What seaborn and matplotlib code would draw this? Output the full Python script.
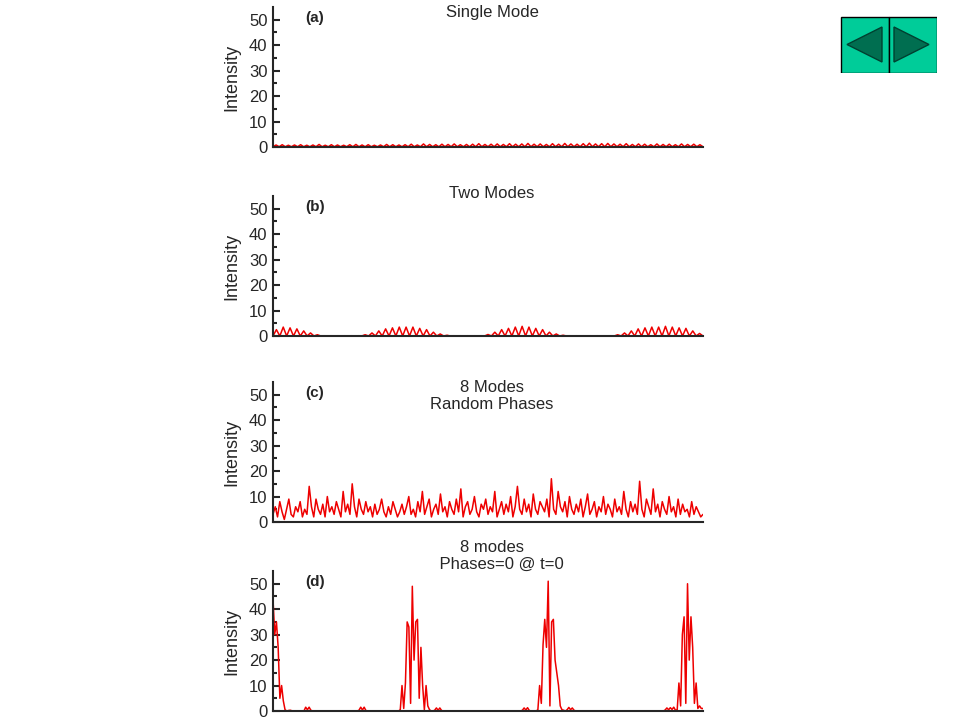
import numpy as np
import matplotlib
matplotlib.use("Agg")
import matplotlib.pyplot as plt
import seaborn as sns
from matplotlib.patches import Rectangle, Polygon

sns.set_style("white")
plt.rcParams['font.family'] = ['Liberation Sans', 'DejaVu Sans']

# --- data ---
# (a) single mode: peak heights of the ripple, troughs near zero
a_peaks = [0.8, 0.9, 0.7, 0.8, 0.9, 0.7, 0.8, 1.0, 0.7, 0.9, 0.8, 0.7, 0.9, 1.0, 0.8, 0.9, 0.7, 0.8,
           1.0, 0.9, 0.8, 0.9, 1.1, 0.8, 1.2, 1.0, 0.9, 1.1, 1.0, 1.2, 0.9, 1.0, 1.1, 1.3, 1.0, 1.1,
           1.2, 1.0, 1.3, 1.1, 1.2, 1.4, 1.1, 1.2, 1.0, 1.3, 1.1, 1.4, 1.2, 1.1, 1.3, 1.5, 1.2, 1.3,
           1.4, 1.2, 1.1, 1.3, 1.0, 1.2, 1.1, 0.9, 1.2, 1.0, 1.1, 0.9, 1.2, 1.0, 1.1, 0.9]
a_trough = 0.1
# (b) two modes: beating ripple
b_peaks = [2.5, 3.5, 3.2, 2.8, 2.0, 1.2, 0.5, 0.1, 0.1, 0.1, 0.1, 0.1, 0.1, 0.5, 1.2, 2.0, 2.8, 3.2,
           3.5, 3.5, 3.5, 3.0, 2.5, 1.5, 0.8, 0.3, 0.1, 0.1, 0.1, 0.1, 0.1, 0.6, 1.5, 2.5, 3.0, 3.5,
           3.8, 3.5, 3.0, 2.5, 1.5, 0.8, 0.3, 0.1, 0.1, 0.1, 0.1, 0.1, 0.1, 0.1, 0.5, 1.2, 2.0, 2.8,
           3.2, 3.5, 3.5, 3.8, 3.5, 3.2, 3.0, 2.0, 1.0]
b_trough = 0.0
# (c) 8 modes, random phases
c_vals = [3, 6, 2, 8, 4, 1, 5, 9, 3, 2, 6, 4, 8, 2, 5, 3, 14, 6, 2, 9,
          5, 3, 7, 2, 10, 4, 6, 3, 8, 5, 2, 12, 4, 7, 3, 15, 6, 2, 9, 5,
          3, 8, 4, 6, 2, 7, 3, 5, 9, 4, 2, 6, 3, 8, 5, 2, 4, 7, 3, 6,
          10, 3, 5, 2, 8, 4, 12, 3, 6, 9, 2, 5, 7, 3, 11, 4, 6, 2, 8, 5,
          3, 9, 4, 13, 2, 6, 8, 3, 5, 10, 4, 2, 7, 5, 9, 3, 6, 4, 12, 2,
          5, 8, 3, 7, 4, 10, 2, 6, 14, 5, 3, 9, 4, 7, 2, 11, 5, 3, 8, 6,
          4, 9, 2, 17, 5, 3, 12, 6, 4, 8, 2, 10, 5, 3, 7, 4, 9, 2, 6, 11,
          3, 5, 8, 2, 6, 4, 10, 3, 7, 5, 2, 9, 4, 6, 3, 12, 5, 2, 8, 4,
          7, 3, 16, 5, 2, 9, 6, 3, 13, 4, 7, 2, 8, 5, 3, 10, 4, 6, 2, 9,
          3, 7, 4, 5, 2, 8, 3, 6, 4, 2, 3]
# (d) 8 modes, phases locked: step 0.4 in x
d_vals = ([44, 30, 35, 25, 5, 10, 4, 0.5, 0, 0.2, 0.3, 0.1, 0, 0, 0, 0, 0, 0, 0, 1.5, 0.5, 1.5, 0.3]
          + [0] * 27 + [0.3, 1.5, 0.4, 1.5, 0.2] + [0] * 19
          + [0.5, 10, 1, 11, 35, 33, 3, 49, 20, 35, 36, 5, 25, 10, 0.5, 10, 2, 0.5]
          + [0, 0, 0.3, 1.2, 0.3, 1.2, 0.2] + [0] * 46 + [0.3, 1.2, 0.4, 1.3, 0.2] + [0] * 4
          + [0.5, 10, 3, 26, 36, 25, 51, 2, 35, 36, 20, 15, 10, 2, 0.5, 0.3]
          + [0, 0.5, 1.4, 0.5, 1.2, 0.3] + [0] * 52 + [0.4, 1.2, 0.5, 1.3, 0.6, 1.5, 0.3]
          + [0.5, 11, 2, 30, 37, 3, 50, 20, 37, 25, 3, 11, 1, 2, 1, 1, 0])

titles = ["Single Mode", "Two Modes", "8 Modes\nRandom Phases", "8 modes\n    Phases=0 @ t=0"]
tags = ["(a)", "(b)", "(c)", "(d)"]


def ripple(peaks, trough):
    ys = []
    for p in peaks:
        ys += [trough, p]
    ys.append(trough)
    return np.linspace(0, 100, len(ys)), np.array(ys)


series = [ripple(a_peaks, a_trough), ripple(b_peaks, b_trough),
          (np.linspace(0, 100, len(c_vals)), np.array(c_vals)),
          (np.arange(len(d_vals)) * 0.4, np.array(d_vals))]

fig = plt.figure(figsize=(9.6, 7.2), dpi=100)
# y=0 line of each panel in pixels
zero_px = [147, 336, 522, 711]
title_px = [12, 194, 396, 556]
for i, (x, y) in enumerate(series):
    ax = fig.add_axes([273 / 960, 1 - zero_px[i] / 720, 430 / 960, 140 / 720])
    sns.lineplot(x=x, y=y, ax=ax, color="#ee0000", linewidth=1.1)
    ax.set_xlim(0, 100)
    ax.set_ylim(0, 55)
    ax.set_yticks([0, 10, 20, 30, 40, 50])
    ax.set_yticks(np.arange(5, 55, 10), minor=True)
    ax.set_xticks([])
    ax.tick_params(axis="y", which="major", direction="in", length=5, width=1.5, labelsize=12, left=True, pad=4)
    ax.tick_params(axis="y", which="minor", direction="in", length=3, width=1.5, left=True)
    for s in ["top", "right"]:
        ax.spines[s].set_visible(False)
    ax.spines["left"].set_linewidth(1.5)
    ax.spines["bottom"].set_linewidth(1.5)
    ax.set_ylabel("Intensity", fontsize=13, labelpad=6)
    ax.patch.set_alpha(0)
    fig.text(305 / 960, 1 - (zero_px[i] - 129) / 720, tags[i], fontsize=11, fontweight="bold", va="center")
    fig.text(492 / 960, 1 - title_px[i] / 720, titles[i], fontsize=12, ha="center", va="center",
             linespacing=1.15)

# navigation button
nav = fig.add_axes([840 / 960, 1 - 73 / 720, 97 / 960, 57 / 720])
nav.set_xlim(0, 97)
nav.set_ylim(0, 57)
nav.axis("off")
nav.add_patch(Rectangle((0.5, 0.5), 48, 56, facecolor="#00cc99", edgecolor="black", linewidth=1))
nav.add_patch(Rectangle((48.5, 0.5), 48, 56, facecolor="#00cc99", edgecolor="black", linewidth=1))
nav.add_patch(Polygon([(7, 28.5), (42, 46), (42, 11)], facecolor="#006e50", edgecolor="#004030"))
nav.add_patch(Polygon([(54, 46), (54, 11), (89, 28.5)], facecolor="#006e50", edgecolor="#004030"))

fig.savefig("out.png", dpi=100)
